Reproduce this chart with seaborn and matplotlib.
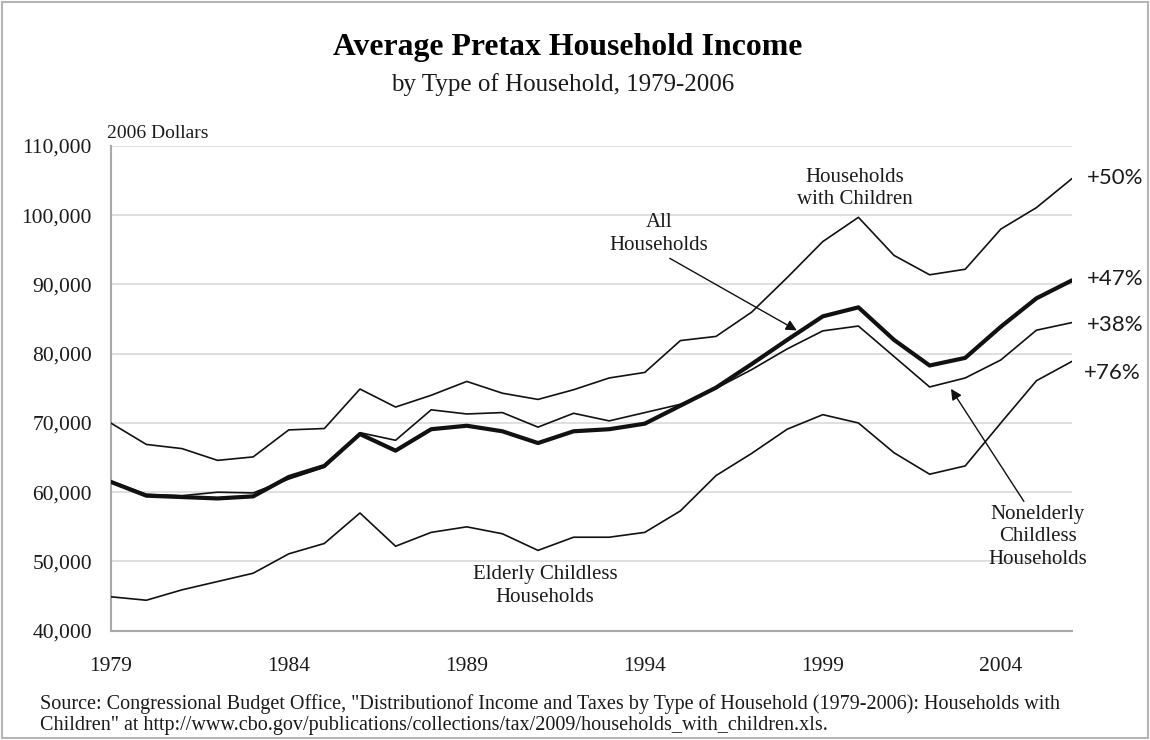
import numpy as np
import pandas as pd
import matplotlib
matplotlib.use("Agg")
import matplotlib.pyplot as plt
import seaborn as sns
from matplotlib.patches import Rectangle

# ---------------- data ----------------
years = list(range(1979, 2007))

with_children = [70000, 66900, 66300, 64600, 65100, 69000, 69200, 74900, 72300, 74000,
                 76000, 74300, 73400, 74800, 76500, 77300, 81900, 82500, 86000, 91000,
                 96200, 99700, 94200, 91400, 92200, 98000, 101100, 105300]

all_households = [61500, 59500, 59300, 59100, 59400, 62200, 63800, 68400, 66000, 69100,
                  69600, 68800, 67100, 68800, 69100, 69900, 72500, 75100, 78500, 82000,
                  85400, 86700, 82000, 78300, 79400, 83900, 88000, 90600]

nonelderly_childless = [61600, 59700, 59500, 60000, 59900, 61900, 63600, 68600, 67500, 71900,
                        71300, 71500, 69400, 71400, 70300, 71500, 72700, 75000, 77700, 80700,
                        83300, 84000, 79600, 75200, 76500, 79100, 83400, 84500]

elderly_childless = [44900, 44400, 45900, 47100, 48300, 51100, 52600, 57000, 52200, 54200,
                     55000, 54000, 51600, 53500, 53500, 54200, 57300, 62400, 65600, 69100,
                     71200, 70000, 65700, 62600, 63800, 70000, 76100, 78900]

x_tick_labels = ["1979", "1984", "1989", "1994", "1999", "2004"]
y_ticks = [40000, 50000, 60000, 70000, 80000, 90000, 100000, 110000]
pct_labels = ["+50%", "+47%", "+38%", "+76%"]

# ---------------- style ----------------
sns.set_theme(style="white")
plt.rcParams['font.family'] = ['Liberation Serif', 'DejaVu Serif']
SERIF = ['Liberation Serif', 'DejaVu Serif']
SANS = ['Lato', 'DejaVu Sans']
TXT = '#1a1a1a'

fig = plt.figure(figsize=(11.5, 7.4), dpi=100)
fig.patch.set_facecolor('white')
fig.patches.append(Rectangle((0.002, 0.003), 0.996, 0.994, transform=fig.transFigure,
                             fill=False, edgecolor='#b5b5b5', linewidth=1.5))

ax = fig.add_axes([0.0963, 0.1477, 0.8359, 0.655])

df = pd.DataFrame({
    "year": years * 4,
    "income": with_children + nonelderly_childless + elderly_childless + all_households,
    "series": (["Households with Children"] * len(years) + ["Nonelderly Childless"] * len(years)
               + ["Elderly Childless"] * len(years) + ["All Households"] * len(years)),
})

for name, lw in [("Households with Children", 1.2), ("Nonelderly Childless", 1.2),
                 ("Elderly Childless", 1.2), ("All Households", 3.0)]:
    sub = df[df["series"] == name]
    sns.lineplot(data=sub, x="year", y="income", ax=ax, color='#111111', linewidth=lw,
                 legend=False, zorder=3)

ax.set_xlim(1979, 2006)
ax.set_ylim(40000, 110000)
ax.set_xlabel("")
ax.set_ylabel("")

ax.set_yticks(y_ticks)
ax.set_yticklabels([f"{v:,}" for v in y_ticks], fontsize=15.5, color=TXT, family=SERIF)
ax.set_xticks(years)
ax.set_xticklabels([str(y) if str(y) in x_tick_labels else "" for y in years],
                   fontsize=15.5, color=TXT, family=SERIF)

ax.grid(axis='y', color='#dcdcdc', linewidth=1.3)
ax.grid(axis='x', visible=False)
for s in ['top', 'right']:
    ax.spines[s].set_visible(False)
for s in ['left', 'bottom']:
    ax.spines[s].set_color('#a8a8a8')
    ax.spines[s].set_linewidth(1.5)
ax.tick_params(axis='y', length=0, pad=13.5)
ax.tick_params(axis='x', direction='in', length=4, width=1.2, color='#a8a8a8', pad=19)

# ---------------- text ----------------
fig.text(0.4935, 0.936, "Average Pretax Household Income", ha='center', va='center',
         fontsize=22.9, fontweight='bold', color='black', family=SERIF)
fig.text(0.4895, 0.886, "by Type of Household, 1979-2006", ha='center', va='center',
         fontsize=18, color=TXT, family=SERIF)
fig.text(0.093, 0.819, "2006 Dollars", ha='left', va='center', fontsize=14, color=TXT, family=SERIF)

fig.text(0.035, 0.0345, 'Source: Congressional Budget Office, "Distributionof Income and Taxes by Type of Household (1979-2006): Households with\n'
         'Children" at http://www.cbo.gov/publications/collections/tax/2009/households_with_children.xls.',
         ha='left', va='center', fontsize=14.5, color=TXT, family=SERIF, linespacing=1.19)

lab_kw = dict(ha='center', va='center', fontsize=15, color=TXT, family=SERIF, linespacing=1.26)
ax.text(1999.9, 103850, "Households\nwith Children", **lab_kw)
ax.text(1991.2, 46470, "Elderly Childless\nHouseholds", **lab_kw)
arrow = dict(arrowstyle='-|>', color='#111111', lw=1.0, mutation_scale=16, shrinkA=0, shrinkB=0)
ax.annotate("All\nHouseholds", xy=(1998.27, 83370), xytext=(1994.4, 97260),
            arrowprops=dict(arrow, relpos=(0.55, 0.0)), **lab_kw)
ax.annotate("Nonelderly\nChildless\nHouseholds", xy=(2002.6, 74930), xytext=(2005.04, 53560),
            arrowprops=dict(arrow, relpos=(0.38, 1.0)), **lab_kw)

pct_kw = dict(ha='left', va='center', fontsize=16, color=TXT, family=SANS, clip_on=False)
ax.text(2006.43, 105440, pct_labels[0], **pct_kw)
ax.text(2006.43, 90750, pct_labels[1], **pct_kw)
ax.text(2006.43, 84100, pct_labels[2], **pct_kw)
ax.text(2006.32, 77150, pct_labels[3], **pct_kw)

fig.savefig("out.png", dpi=100, facecolor='white')
